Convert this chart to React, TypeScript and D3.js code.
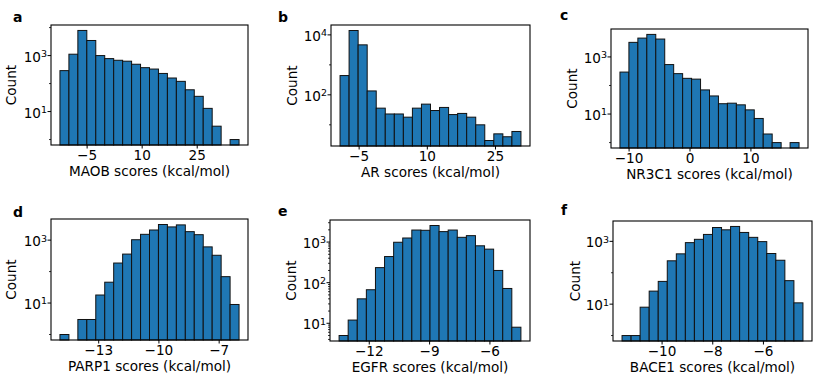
import React from 'react';
import * as d3 from 'd3';

// panel labels and targets
const panelLetters = ['a', 'b', 'c', 'd', 'e', 'f'];
const targetNames = ['MAOB', 'AR', 'NR3C1', 'PARP1', 'EGFR', 'BACE1'];

// histogram counts (20 bins each)
const maobCounts = [290, 1120, 7900, 3460, 1000, 780, 680, 630, 490, 370, 330, 230, 158, 120, 60, 35, 13, 3, 0, 1];
const arCounts = [440, 14000, 4650, 135, 36, 23, 23, 18, 36, 49, 30, 38, 22, 24, 18, 10, 3, 5, 4, 6];
const nr3c1Counts = [295, 3240, 4570, 6150, 4230, 540, 260, 178, 167, 70, 43, 23, 24, 21, 14, 7, 2, 1, 0, 1];
const parp1Counts = [1, 0, 3, 3, 18, 46, 187, 360, 1030, 1530, 2100, 3140, 2630, 3050, 1860, 1490, 610, 330, 69, 9];
const egfrCounts = [5, 12, 40, 67, 235, 440, 990, 1260, 1980, 1950, 2560, 1810, 1980, 1310, 1440, 810, 670, 200, 72, 8];
const bace1Counts = [1, 1, 8, 26, 53, 240, 400, 910, 1160, 1660, 2760, 2330, 2980, 1920, 1340, 980, 410, 250, 56, 11];

// bin edges: first edge and bin width (kcal/mol)
const binStarts = [-12.4, -9.2, -11.5, -14.93, -13.5, -11.58];
const binWidths = [2.44, 1.99, 1.47, 0.446, 0.452, 0.357];

// tick values
const xTickValues = [[-5, 10, 25], [-5, 10, 25], [-10, 0, 10], [-13, -10, -7], [-12, -9, -6], [-10, -8, -6]];
const yTickExponents = [[1, 3], [2, 4], [1, 3], [1, 3], [1, 2, 3], [1, 3]];

const allCounts = [maobCounts, arCounts, nr3c1Counts, parp1Counts, egfrCounts, bace1Counts];

// layout of the six axes boxes (pixels)
const boxes = [
  { x: 51, y: 25, w: 197, h: 120, ylab: 16, lx: 13, ly: 22 },
  { x: 331, y: 25, w: 199, h: 121, ylab: 296.5, lx: 278, ly: 22 },
  { x: 611, y: 29, w: 197, h: 119, ylab: 576.5, lx: 560, ly: 20 },
  { x: 51, y: 219, w: 197, h: 121, ylab: 16, lx: 13, ly: 216.5 },
  { x: 330, y: 220, w: 200, h: 121, ylab: 296, lx: 278, ly: 216 },
  { x: 613, y: 221, w: 199, h: 120, ylab: 580, lx: 561, ly: 214.5 },
];

const FONT = 'DejaVu Sans, sans-serif';
const FS = 13.6;
const minus = (v: number) => (v < 0 ? '\u2212' + Math.abs(v) : String(v));

const Panel = ({ i }: { i: number }) => {
  const b = boxes[i];
  const counts = allCounts[i];
  const n = counts.length;
  const start = binStarts[i];
  const bw = binWidths[i];
  const end = start + n * bw;
  const pad = (end - start) * 0.05;
  const x = d3.scaleLinear().domain([start - pad, end + pad]).range([b.x, b.x + b.w]);
  const pos = counts.filter((c) => c > 0);
  const lmin = Math.log10(d3.min(pos)!);
  const lmax = Math.log10(d3.max(pos)!);
  const m = (lmax - lmin) * 0.05;
  const y = d3.scaleLog().domain([10 ** (lmin - m), 10 ** (lmax + m)]).range([b.y + b.h, b.y]);
  const [d0, d1] = y.domain();
  const bottom = b.y + b.h;

  const majors = yTickExponents[i];
  const stride = majors.length > 1 ? majors[1] - majors[0] : 1;
  const minor: number[] = [];
  for (let e = Math.floor(Math.log10(d0)); e <= Math.ceil(Math.log10(d1)); e++) {
    if (stride === 1) {
      for (let s = 2; s < 10; s++) minor.push(s * 10 ** e);
    } else if (!majors.includes(e)) {
      minor.push(10 ** e);
    }
  }
  const minorIn = minor.filter((v) => v >= d0 && v <= d1);

  return (
    <g>
      {counts.map((c, k) =>
        c > 0 ? (
          <rect
            key={k}
            x={x(start + k * bw)}
            y={y(c)}
            width={x(start + (k + 1) * bw) - x(start + k * bw)}
            height={bottom - y(c)}
            fill="#1f77b4"
            stroke="#111"
            strokeWidth={1}
          />
        ) : null
      )}
      <rect x={b.x} y={b.y} width={b.w} height={b.h} fill="none" stroke="#000" strokeWidth={1.1} />
      {xTickValues[i].map((t) => (
        <g key={t}>
          <line x1={x(t)} x2={x(t)} y1={bottom} y2={bottom + 3.5} stroke="#000" strokeWidth={1} />
          <text x={x(t)} y={bottom + 15} textAnchor="middle" fontFamily={FONT} fontSize={FS}>
            {minus(t)}
          </text>
        </g>
      ))}
      {majors.map((e) => (
        <g key={e}>
          <line x1={b.x - 3.5} x2={b.x} y1={y(10 ** e)} y2={y(10 ** e)} stroke="#000" strokeWidth={1} />
          <text x={b.x - 4} y={y(10 ** e) + 6} textAnchor="end" fontFamily={FONT} fontSize={FS}>
            <tspan>10</tspan>
            <tspan dy={-4.6} fontSize={9.5}>{e}</tspan>
          </text>
        </g>
      ))}
      {minorIn.map((v, k) => (
        <line key={k} x1={b.x - 2} x2={b.x} y1={y(v)} y2={y(v)} stroke="#000" strokeWidth={0.8} />
      ))}
      <text
        x={b.x + b.w / 2}
        y={bottom + 30.5}
        textAnchor="middle"
        fontFamily={FONT}
        fontSize={FS}
      >
        {targetNames[i]} scores (kcal/mol)
      </text>
      <text
        transform={`translate(${b.ylab},${b.y + b.h / 2}) rotate(-90)`}
        textAnchor="middle"
        fontFamily={FONT}
        fontSize={FS}
      >
        Count
      </text>
      <text x={b.lx} y={b.ly} fontFamily={FONT} fontSize={14} fontWeight="bold">
        {panelLetters[i]}
      </text>
    </g>
  );
};

export default function App() {
  return (
    <div style={{ position: 'absolute', left: 0, top: 0 }}>
      <svg width={830} height={388} style={{ display: 'block', background: '#fff' }}>
        {panelLetters.map((_, i) => (
          <Panel key={i} i={i} />
        ))}
      </svg>
    </div>
  );
}
